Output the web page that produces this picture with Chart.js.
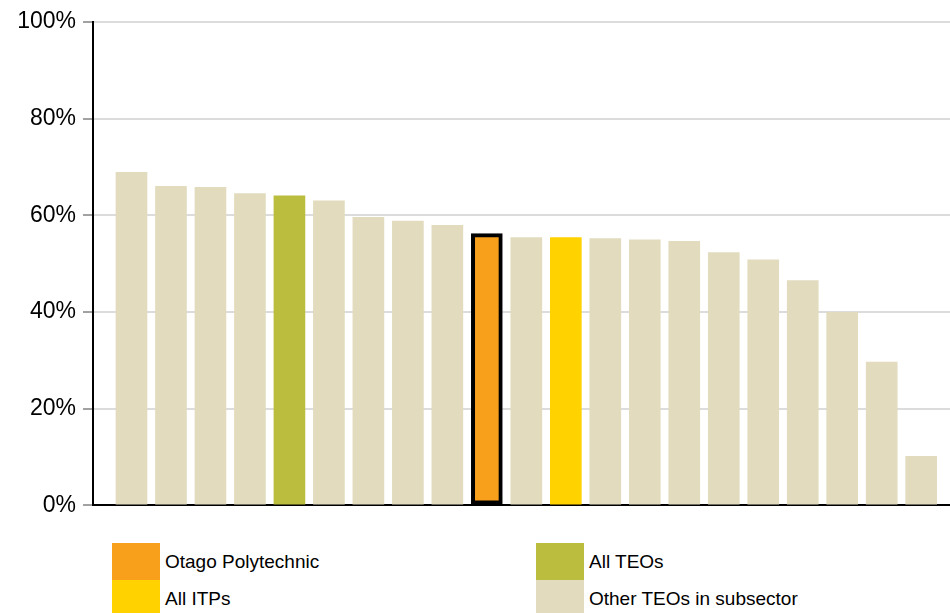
<!DOCTYPE html>
<html>
<head>
<meta charset="utf-8">
<script src="https://cdn.jsdelivr.net/npm/chart.js@4.4.1/dist/chart.umd.min.js"></script>
<style>
  body { margin: 0; background: #fff; font-family: "Liberation Sans", Arial, sans-serif; }
  #wrap { position: relative; width: 950px; height: 613px; overflow: hidden; }
  #chartBox { position: absolute; left: 0; top: 0; width: 950px; height: 526px; }
  .legend { position: absolute; top: 543px; }
  .item { display: flex; align-items: center; height: 37px; }
  .swatch { width: 48px; height: 37px; }
  .item span { margin-left: 5px; font-size: 19px; color: #000; }
</style>
</head>
<body>
<div id="wrap">
  <div id="chartBox"><canvas id="chart"></canvas></div>
  <div class="legend" id="legendLeft" style="left:112px"></div>
  <div class="legend" id="legendRight" style="left:536px"></div>
</div>
<script>
// Values (share of students, %)
const values = [68.9, 66.0, 65.8, 64.5, 64.0, 63.0, 59.6, 58.8, 57.9, 56.2,
  55.4, 55.4, 55.2, 54.9, 54.6, 52.3, 50.8, 46.5, 39.9, 29.6, 10.1];

// Which group each bar belongs to
const groups = ["other", "other", "other", "other", "allTEOs", "other", "other", "other", "other", "otago",
  "other", "allITPs", "other", "other", "other", "other", "other", "other", "other", "other", "other"];

const yTicks = [0, 20, 40, 60, 80, 100];

const legendItems = [
  { key: "otago", label: "Otago Polytechnic" },
  { key: "allITPs", label: "All ITPs" },
  { key: "allTEOs", label: "All TEOs" },
  { key: "other", label: "Other TEOs in subsector" },
];

// Colors
const colors = {
  otago: "#F8A01C",
  allITPs: "#FFD200",
  allTEOs: "#BBBD3E",
  other: "#E2DBBD",
};

function buildLegend() {
  const left = document.getElementById("legendLeft");
  const right = document.getElementById("legendRight");
  legendItems.forEach((item, i) => {
    const div = document.createElement("div");
    div.className = "item";
    div.innerHTML = `<div class="swatch" style="background:${colors[item.key]}"></div><span>${item.label}</span>`;
    (i < 2 ? left : right).appendChild(div);
  });
}

function createChart() {
  const ctx = document.getElementById("chart").getContext("2d");

  new Chart(ctx, {
    type: "bar",
    data: {
      datasets: [
        {
          data: values.map((v, i) => ({ x: i, y: v })),
          backgroundColor: groups.map((g) => colors[g]),
          borderColor: groups.map((g) => (g === "otago" ? "#000" : colors[g])),
          borderWidth: groups.map((g) => (g === "otago" ? 4 : 0)),
          borderSkipped: false,
          barThickness: 31,
        },
      ],
    },
    options: {
      responsive: true,
      maintainAspectRatio: false,
      animation: false,
      layout: { padding: { top: 22, bottom: 0, left: 0, right: 0 } },
      plugins: {
        legend: { display: false },
        tooltip: { enabled: false },
      },
      scales: {
        x: {
          type: "linear",
          offset: false,
          min: -0.975,
          max: 20.73,
          afterFit: (scale) => { scale.height = 0; },
          ticks: { display: false },
          grid: { display: false, drawTicks: false },
          border: { color: "#000", width: 2 },
        },
        y: {
          min: 0,
          max: 100,
          afterFit: (scale) => { scale.width = 93; },
          afterBuildTicks: (scale) => {
            scale.ticks = yTicks.map((v) => ({ value: v }));
          },
          ticks: {
            color: "#000",
            padding: 7,
            font: { family: "Liberation Sans", size: 23 },
            callback: (v) => v + "%",
          },
          grid: {
            color: "#DCDCDC",
            lineWidth: 2,
            tickLength: 10,
            tickColor: "#444",
            tickWidth: 1,
          },
          border: { color: "#000", width: 2 },
        },
      },
    },
  });
}

buildLegend();
createChart();
</script>
</body>
</html>
